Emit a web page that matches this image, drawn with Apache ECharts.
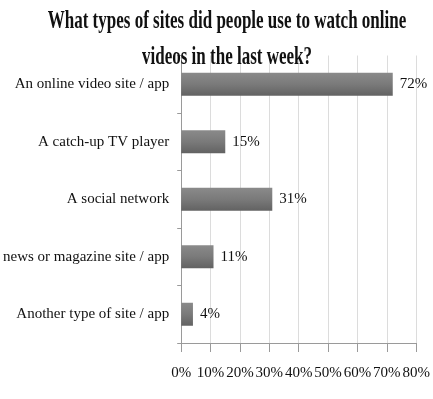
<!DOCTYPE html>
<html>
<head>
<meta charset="utf-8">
<script src="https://cdn.jsdelivr.net/npm/echarts@6/dist/echarts.min.js"></script>
<style>
  html, body { margin: 0; padding: 0; background: #fff; }
  #chart { width: 433px; height: 399px; }
</style>
</head>
<body>
<div id="chart"></div>
<script>
// Survey answers: where people watched online videos last week
const categories = [
  'An online video site / app',
  'A catch-up TV player',
  'A social network',
  'news or magazine site / app',
  'Another type of site / app'
];
const shares = [72, 15, 31, 11, 4];        // percent of respondents
const axisMax = 80;
const axisStep = 10;
const titleLines = [
  'What types of sites did people use to watch online',
  'videos in the last week?'
];

const serif = '"Liberation Serif", "Times New Roman", serif';
const chart = echarts.init(document.getElementById('chart'), null, { renderer: 'canvas' });

chart.setOption({
  animation: false,
  backgroundColor: '#ffffff',
  grid: { left: 175, right: 11.3, top: 55.5, bottom: 56, containLabel: false },
  xAxis: {
    type: 'value',
    min: 0,
    max: axisMax,
    interval: axisStep,
    axisLine: { show: true, lineStyle: { color: '#9a9a9a', width: 1 } },
    axisTick: { show: true, length: 9, lineStyle: { color: '#9a9a9a' } },
    splitLine: { show: true, lineStyle: { color: '#dcdcdc', width: 1 } },
    axisLabel: {
      margin: 23,
      fontFamily: serif,
      fontSize: 15,
      color: '#111',
      formatter: v => v + '%'
    }
  },
  yAxis: {
    type: 'category',
    data: categories,
    inverse: true,
    axisLine: { show: true, lineStyle: { color: '#9a9a9a', width: 1 } },
    axisTick: { show: true, length: 4, alignWithLabel: false, lineStyle: { color: '#9a9a9a' } },
    axisLabel: {
      margin: 12,
      fontFamily: serif,
      fontSize: 15,
      color: '#111'
    }
  },
  series: [{
    type: 'bar',
    data: shares,
    barCategoryGap: '60%',
    itemStyle: {
      color: new echarts.graphic.LinearGradient(0, 0, 0, 1, [
        { offset: 0, color: '#8a8a8a' },
        { offset: 0.5, color: '#7a7a7a' },
        { offset: 1, color: '#626262' }
      ])
    },
    label: {
      show: true,
      position: 'right',
      distance: 7,
      fontFamily: serif,
      fontSize: 15,
      color: '#111',
      formatter: p => p.value + '%'
    }
  }],
  graphic: [{
    type: 'text',
    x: 227,
    y: 3,
    scaleX: 0.654,
    z: 100,
    style: {
      text: titleLines.join('\n'),
      fontFamily: serif,
      fontWeight: 'bold',
      fontSize: 26,
      lineHeight: 36,
      fill: '#111',
      textAlign: 'center',
      textVerticalAlign: 'top'
    }
  }]
});
</script>
</body>
</html>
